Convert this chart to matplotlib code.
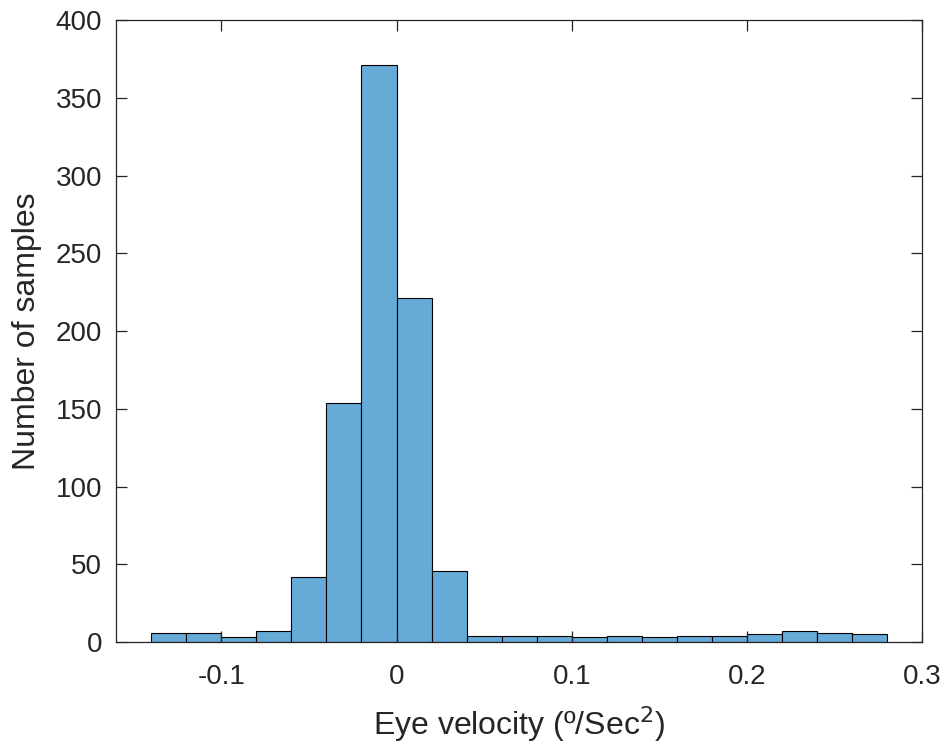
import numpy as np
import matplotlib.pyplot as plt

# histogram counts, bin width 0.02
edges = np.round(np.arange(-0.14, 0.2801, 0.02), 2)
counts = [6, 6, 3, 7, 42, 154, 371, 221, 46,
          4, 4, 4, 3, 4, 3, 4, 4, 5, 7, 6, 5]

plt.rcParams['font.family'] = ['Liberation Sans', 'DejaVu Sans']

fig = plt.figure(figsize=(9.44, 7.44), dpi=100)
ax = fig.add_axes([0.123, 0.137, 0.854, 0.836])

ax.hist(edges[:-1], bins=edges, weights=counts,
        color=(0.4, 0.668, 0.845), edgecolor='black', linewidth=0.8)

ax.set_xlim(-0.16, 0.3)
ax.set_ylim(0, 400)
ax.set_xticks([-0.1, 0, 0.1, 0.2, 0.3])
ax.set_xticklabels(['-0.1', '0', '0.1', '0.2', '0.3'])
ax.set_yticks(range(0, 401, 50))
ax.tick_params(direction='in', top=True, right=True, labelsize=20,
               length=8, width=0.9, colors='#262626', pad=10)
ax.tick_params(axis='x', pad=16)
for s in ax.spines.values():
    s.set_color('#262626')
    s.set_linewidth(0.9)

ax.set_xlabel('Eye velocity (º/Sec$^2$)', fontsize=23, color='#262626', labelpad=10)
ax.set_ylabel('Number of samples', fontsize=23, color='#262626', labelpad=10)

fig.savefig('out.png', dpi=100)
